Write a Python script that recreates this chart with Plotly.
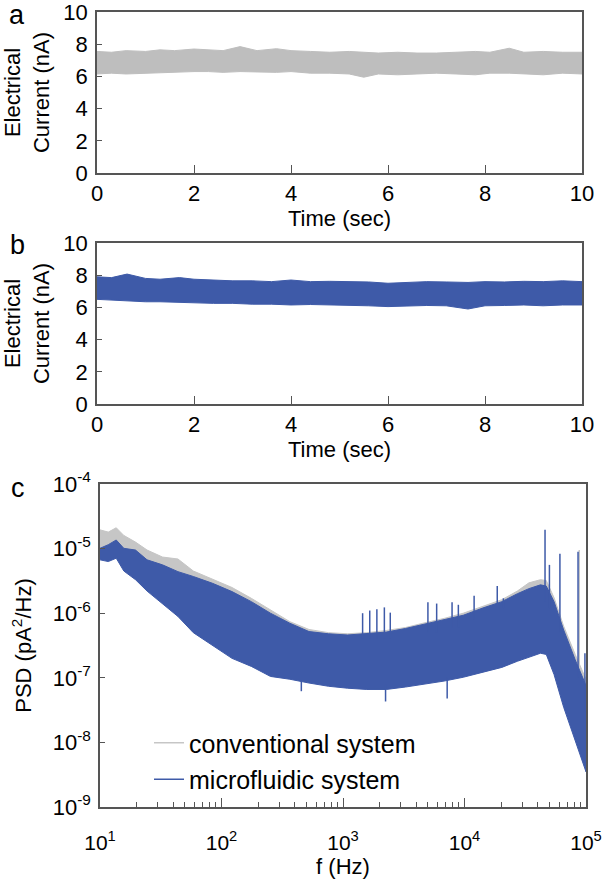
import plotly.graph_objects as go

# ---------------- data ----------------
# panel a: conventional system, current band envelope (nA)
time_a = [0, 0.3, 0.6, 1.0, 1.3, 1.6, 2.0, 2.3, 2.6, 2.95, 3.3, 3.7, 4.0, 4.4, 4.8,
          5.2, 5.5, 5.8, 6.2, 6.6, 7.0, 7.4, 7.8, 8.1, 8.5, 8.8, 9.2, 9.6, 10]
upper_a = [7.55, 7.5, 7.6, 7.55, 7.65, 7.6, 7.7, 7.65, 7.6, 7.85, 7.6, 7.72, 7.6, 7.55, 7.5,
           7.55, 7.5, 7.45, 7.5, 7.45, 7.45, 7.5, 7.55, 7.5, 7.75, 7.5, 7.55, 7.5, 7.5]
lower_a = [6.15, 6.2, 6.15, 6.2, 6.2, 6.25, 6.3, 6.3, 6.25, 6.3, 6.3, 6.25, 6.3, 6.2, 6.2,
           6.15, 5.95, 6.15, 6.1, 6.15, 6.2, 6.15, 6.1, 6.2, 6.2, 6.15, 6.1, 6.2, 6.15]

# panel b: microfluidic system, current band envelope (nA)
time_b = [0, 0.3, 0.62, 1.0, 1.3, 1.7, 2.0, 2.4, 2.8, 3.2, 3.6, 4.0, 4.4, 4.8, 5.2,
          5.6, 6.0, 6.4, 6.8, 7.2, 7.65, 8.0, 8.4, 8.8, 9.2, 9.6, 10]
upper_b = [7.9, 7.85, 8.07, 7.8, 7.75, 7.85, 7.75, 7.7, 7.65, 7.65, 7.6, 7.7, 7.6, 7.62, 7.6,
           7.58, 7.5, 7.55, 7.6, 7.58, 7.55, 7.6, 7.58, 7.62, 7.6, 7.65, 7.6]
lower_b = [6.5, 6.45, 6.4, 6.35, 6.35, 6.3, 6.3, 6.25, 6.25, 6.2, 6.2, 6.15, 6.18, 6.15, 6.12,
           6.1, 6.05, 6.1, 6.12, 6.1, 5.9, 6.1, 6.12, 6.15, 6.1, 6.15, 6.15]

# panel c: PSD envelopes (pA^2/Hz)
freq = [10, 11.7, 13.6, 15.7, 19.6, 24.4, 32.7, 43.8, 58.6, 84.5, 122, 176, 253, 365, 525,
        759, 1090, 1570, 2270, 3270, 4710, 6790, 9770, 14100, 20300, 27200, 33900, 42200,
        47100, 54600, 65500, 81500, 100000]
micro_upper = [1.01e-5, 1.15e-5, 1.36e-5, 1.01e-5, 9.5e-6, 6.7e-6, 5.6e-6, 4.4e-6, 3.7e-6,
               2.9e-6, 2.16e-6, 1.51e-6, 1.0e-6, 7.0e-7, 5.2e-7, 4.8e-7, 4.6e-7, 4.8e-7,
               5.1e-7, 5.8e-7, 6.8e-7, 7.9e-7, 9.3e-7, 1.2e-6, 1.51e-6, 2.0e-6, 2.4e-6,
               2.75e-6, 2.63e-6, 1.51e-6, 5.5e-7, 1.9e-7, 7.6e-8]
micro_lower = [6.7e-6, 6.3e-6, 7.1e-6, 4.5e-6, 3.3e-6, 2.2e-6, 1.4e-6, 8.9e-7, 5.0e-7,
               3.2e-7, 2.0e-7, 1.5e-7, 1.05e-7, 9.5e-8, 8.3e-8, 7.4e-8, 6.9e-8, 6.6e-8,
               6.6e-8, 7.2e-8, 7.9e-8, 8.9e-8, 1.02e-7, 1.2e-7, 1.45e-7, 1.8e-7, 2.1e-7,
               2.4e-7, 2.3e-7, 1.12e-7, 3.5e-8, 1.1e-8, 3.5e-9]
conv_upper = [1.95e-5, 1.8e-5, 2.1e-5, 1.6e-5, 1.26e-5, 9.5e-6, 7.4e-6, 6.9e-6, 4.5e-6,
              3.4e-6, 2.5e-6, 1.7e-6, 1.12e-6, 7.4e-7, 5.6e-7, 5.0e-7, 4.8e-7, 5.0e-7,
              5.4e-7, 6.0e-7, 7.1e-7, 8.3e-7, 1.0e-6, 1.29e-6, 1.62e-6, 2.2e-6, 2.95e-6,
              3.3e-6, 3.2e-6, 1.74e-6, 6.3e-7, 2.3e-7, 9.5e-8]
conv_lower = [7.9e-6, 7.4e-6, 8.0e-6, 5.6e-6, 4.2e-6, 2.9e-6, 1.8e-6, 1.15e-6, 6.5e-7,
              4.0e-7, 2.4e-7, 1.7e-7, 1.15e-7, 1.0e-7, 8.7e-8, 7.8e-8, 7.2e-8, 6.9e-8,
              6.9e-8, 7.5e-8, 8.2e-8, 9.2e-8, 1.06e-7, 1.25e-7, 1.5e-7, 1.85e-7, 2.2e-7,
              2.5e-7, 2.4e-7, 1.2e-7, 4.0e-8, 1.3e-8, 4.5e-9]

# narrow spectral lines: frequency, tip value, base value
micro_spike_f = [454, 1450, 1660, 1900, 2190, 2240, 2450, 5000, 5900, 7200, 7900, 8900,
                 12000, 18600, 20900, 46000, 50000, 61000, 86000, 98000]
micro_spike_tip = [6.2e-8, 1.0e-6, 1.1e-6, 1.15e-6, 1.23e-6, 4.3e-8, 1.02e-6, 1.48e-6,
                   1.41e-6, 4.8e-8, 1.48e-6, 1.35e-6, 1.86e-6, 2.63e-6, 1.7e-6, 1.95e-5,
                   5.6e-6, 8.3e-6, 8.9e-6, 2.4e-7]
micro_spike_base = [9e-8, 4e-7, 4e-7, 4e-7, 4e-7, 8e-8, 4e-7, 5e-7, 5e-7, 1e-7, 6e-7, 6e-7,
                    8e-7, 1.2e-6, 1.2e-6, 1.5e-6, 1.2e-6, 5e-7, 1e-7, 3e-8]
conv_spike_f = [88000]
conv_spike_tip = [9.5e-6]
conv_spike_base = [1e-7]

time_ticks = [0, 2, 4, 6, 8, 10]
current_ticks = [0, 2, 4, 6, 8, 10]
freq_ticks = [10, 100, 1000, 10000, 100000]
freq_ticktext = ["10<sup>1</sup>", "10<sup>2</sup>", "10<sup>3</sup>", "10<sup>4</sup>", "10<sup>5</sup>"]
psd_ticks = [1e-9, 1e-8, 1e-7, 1e-6, 1e-5, 1e-4]
psd_ticktext = ["10<sup>-9</sup>", "10<sup>-8</sup>", "10<sup>-7</sup>", "10<sup>-6</sup>",
                "10<sup>-5</sup>", "10<sup>-4</sup>"]

GRAY = "#BEBEBE"
GRAY_C = "#C6C6C6"
BLUE = "#3E5AA8"
AXC = "#555555"
FONT = "Liberation Sans, Arial, sans-serif"

W, H = 605, 880


def band(x, up, lo):
    return list(x) + list(x)[::-1], list(up) + list(lo)[::-1]


def spikes(fs, tips, bases):
    xs, ys = [], []
    for f, t, b in zip(fs, tips, bases):
        xs += [f, f, None]
        ys += [b, t, None]
    return xs, ys


def pxx(p):
    return p / W


def pxy(p):
    return 1 - p / H


fig = go.Figure()

xa, ya = band(time_a, upper_a, lower_a)
fig.add_trace(go.Scatter(x=xa, y=ya, mode="lines", fill="toself", fillcolor=GRAY,
                         line=dict(color=GRAY, width=1), xaxis="x", yaxis="y",
                         showlegend=False, hoverinfo="skip"))
xb, yb = band(time_b, upper_b, lower_b)
fig.add_trace(go.Scatter(x=xb, y=yb, mode="lines", fill="toself", fillcolor=BLUE,
                         line=dict(color=BLUE, width=1), xaxis="x2", yaxis="y2",
                         showlegend=False, hoverinfo="skip"))

xc, yc = band(freq, conv_upper, conv_lower)
fig.add_trace(go.Scatter(x=xc, y=yc, mode="lines", fill="toself", fillcolor=GRAY_C,
                         line=dict(color=GRAY_C, width=1), xaxis="x3", yaxis="y3",
                         showlegend=False, legendgroup="conv", hoverinfo="skip"))
sx, sy = spikes(conv_spike_f, conv_spike_tip, conv_spike_base)
fig.add_trace(go.Scatter(x=sx, y=sy, mode="lines", line=dict(color=GRAY_C, width=1.5),
                         xaxis="x3", yaxis="y3", name="conventional system",
                         legendgroup="conv"))
xm, ym = band(freq, micro_upper, micro_lower)
fig.add_trace(go.Scatter(x=xm, y=ym, mode="lines", fill="toself", fillcolor=BLUE,
                         line=dict(color=BLUE, width=1), xaxis="x3", yaxis="y3",
                         showlegend=False, legendgroup="micro", hoverinfo="skip"))
sx, sy = spikes(micro_spike_f, micro_spike_tip, micro_spike_base)
fig.add_trace(go.Scatter(x=sx, y=sy, mode="lines", line=dict(color=BLUE, width=1.5),
                         xaxis="x3", yaxis="y3", name="microfluidic system",
                         legendgroup="micro"))

axis_common = dict(showline=True, mirror=True, linecolor=AXC, linewidth=1.5,
                   ticks="inside", tickcolor=AXC, tickwidth=1.2, showgrid=False,
                   zeroline=False, tickfont=dict(size=22, color="black", family=FONT),
                   automargin=False, ticklabeloverflow="allow")

lin_x = dict(axis_common, range=[0, 10], tickvals=time_ticks, ticklen=8,
             title=dict(text="Time (sec)", font=dict(size=22, color="black", family=FONT),
                        standoff=0))
lin_y = dict(axis_common, range=[0, 10], tickvals=current_ticks, ticklen=5,
             ticklabelstandoff=3,
             title=dict(text="Electrical<br>Current (nA)",
                        font=dict(size=22, color="black", family=FONT), standoff=14))

minor_vals = [m * 10 ** k for k in range(1, 5) for m in range(2, 10)]

fig.update_layout(
    width=W, height=H,
    margin=dict(l=0, r=0, t=0, b=0),
    paper_bgcolor="white", plot_bgcolor="white",
    font=dict(family=FONT, color="black"),
    xaxis=dict(lin_x, domain=[pxx(97), pxx(582)], anchor="y"),
    yaxis=dict(lin_y, domain=[pxy(173), pxy(12)], anchor="x"),
    xaxis2=dict(lin_x, domain=[pxx(97), pxx(582)], anchor="y2"),
    yaxis2=dict(lin_y, domain=[pxy(404), pxy(243)], anchor="x2"),
    xaxis3=dict(axis_common, type="log", range=[1, 5], domain=[pxx(100), pxx(586)],
                anchor="y3", tickvals=freq_ticks, ticktext=freq_ticktext, ticklen=9,
                ticklabelstandoff=16,
                tickfont=dict(size=21, color="black", family=FONT),
                minor=dict(tickvals=minor_vals, ticks="inside", ticklen=5,
                           tickcolor=AXC, tickwidth=1),
                title=dict(text="f (Hz)", font=dict(size=22, color="black", family=FONT),
                           standoff=2)),
    yaxis3=dict(axis_common, type="log", range=[-9, -4], domain=[pxy(807), pxy(484)],
                anchor="x3", tickvals=psd_ticks, ticktext=psd_ticktext, ticklen=5,
                ticklabelstandoff=3,
                title=dict(text="PSD (pA<sup>2</sup>/Hz)",
                           font=dict(size=22, color="black", family=FONT), standoff=15)),
    legend=dict(x=pxx(149), y=pxy(720), xanchor="left", yanchor="top",
                bgcolor="rgba(0,0,0,0)", font=dict(size=25, color="black", family=FONT),
                traceorder="grouped", tracegroupgap=1, itemclick=False),
    showlegend=True,
)

for letter, lx, ly in [("a", 17, 15), ("b", 17, 245), ("c", 18, 488)]:
    fig.add_annotation(text=letter, x=pxx(lx), y=pxy(ly), xref="paper", yref="paper",
                       showarrow=False, font=dict(size=27, color="black", family=FONT),
                       xanchor="center", yanchor="middle")

# the page body normally has an 8px margin; remove it so the 605x880 figure fills the window
fig.write_html("out.html", config={"displayModeBar": False},
               post_script="document.body.style.margin='0';")
